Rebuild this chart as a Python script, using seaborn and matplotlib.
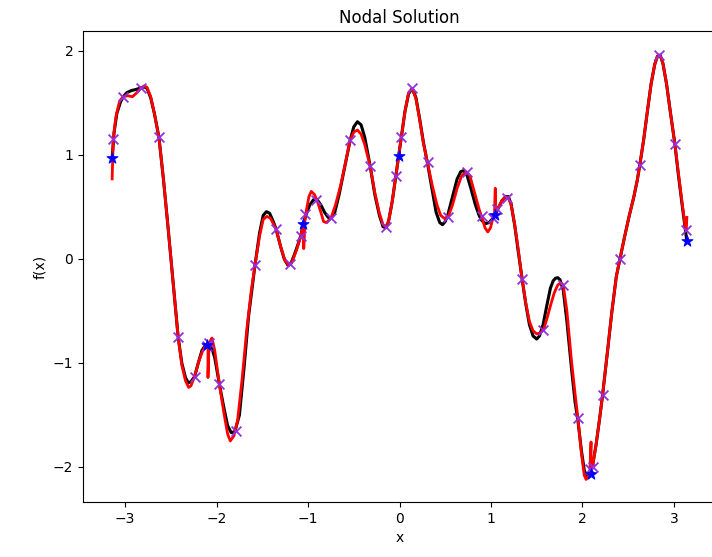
import matplotlib
matplotlib.use("Agg")
import matplotlib.pyplot as plt
import seaborn as sns

# true function (black)
black_x = [-3.1416, -3.12, -3.09, -3.05, -3.02, -2.98, -2.93, -2.88, -2.83, -2.79, -2.76, -2.72,
           -2.68, -2.63, -2.58, -2.53, -2.48, -2.42, -2.38, -2.34, -2.31, -2.28, -2.24, -2.20,
           -2.16, -2.13, -2.10, -2.06, -2.02, -1.97, -1.92, -1.88, -1.84, -1.80, -1.75, -1.70,
           -1.65, -1.58, -1.53, -1.49, -1.455, -1.42, -1.38, -1.35, -1.30, -1.26, -1.22, -1.19,
           -1.15, -1.11, -1.08, -1.05, -1.02, -0.98, -0.94, -0.90, -0.86, -0.82, -0.78, -0.75,
           -0.71, -0.66, -0.60, -0.54, -0.50, -0.46, -0.42, -0.38, -0.32, -0.27, -0.22, -0.18,
           -0.15, -0.12, -0.08, -0.04, -0.01, 0.02, 0.06, 0.10, 0.14, 0.18, 0.22, 0.26,
           0.31, 0.36, 0.40, 0.44, 0.47, 0.50, 0.53, 0.58, 0.63, 0.67, 0.70, 0.74,
           0.78, 0.83, 0.87, 0.90, 0.94, 0.98, 1.02, 1.05, 1.08, 1.12, 1.16, 1.19,
           1.22, 1.26, 1.30, 1.34, 1.38, 1.42, 1.46, 1.50, 1.53, 1.57, 1.61, 1.65,
           1.68, 1.705, 1.73, 1.755, 1.79, 1.83, 1.88, 1.92, 1.95, 1.99, 2.02, 2.05, 2.08,
           2.11, 2.15, 2.19, 2.22, 2.27, 2.32, 2.37, 2.41, 2.46, 2.51, 2.56, 2.60,
           2.63, 2.67, 2.71, 2.75, 2.79, 2.82, 2.85, 2.88, 2.92, 2.96, 3.01, 3.05,
           3.09, 3.13, 3.1416]
black_y = [0.97, 1.22, 1.40, 1.51, 1.56, 1.60, 1.62, 1.63, 1.645, 1.655, 1.64, 1.55,
           1.40, 1.17, 0.76, 0.30, -0.18, -0.75, -1.00, -1.14, -1.19, -1.18, -1.13, -1.00,
           -0.88, -0.84, -0.83, -0.83, -0.95, -1.20, -1.43, -1.60, -1.67, -1.66, -1.50, -1.05,
           -0.55, -0.06, 0.25, 0.42, 0.455, 0.44, 0.36, 0.29, 0.12, 0.00, -0.06, -0.05,
           0.04, 0.14, 0.22, 0.34, 0.43, 0.52, 0.57, 0.57, 0.52, 0.45, 0.40, 0.39,
           0.44, 0.62, 0.88, 1.14, 1.27, 1.32, 1.29, 1.17, 0.89, 0.62, 0.42, 0.31,
           0.30, 0.36, 0.55, 0.80, 0.99, 1.17, 1.42, 1.59, 1.64, 1.55, 1.35, 1.13,
           0.90, 0.65, 0.45, 0.35, 0.33, 0.36, 0.43, 0.60, 0.77, 0.84, 0.85, 0.80,
           0.68, 0.52, 0.42, 0.37, 0.34, 0.35, 0.39, 0.43, 0.49, 0.56, 0.60, 0.60,
           0.53, 0.32, 0.06, -0.19, -0.43, -0.63, -0.74, -0.77, -0.74, -0.63, -0.45, -0.28,
           -0.21, -0.185, -0.18, -0.20, -0.30, -0.60, -1.05, -1.38, -1.55, -1.85, -2.03, -2.10, -2.08,
           -1.99, -1.78, -1.52, -1.31, -0.92, -0.52, -0.17, 0.00, 0.21, 0.41, 0.59, 0.76,
           0.92, 1.15, 1.42, 1.68, 1.87, 1.95, 1.96, 1.88, 1.68, 1.42, 1.11, 0.80,
           0.52, 0.25, 0.17]

# element-wise approximation (red), spikes at element ends included
red_x = [-3.1416, -3.13, -3.10, -3.06, -3.02, -2.97, -2.92, -2.87, -2.83, -2.79, -2.76, -2.72,
         -2.68, -2.63, -2.58, -2.53, -2.48, -2.42, -2.38, -2.34, -2.305, -2.28, -2.24, -2.20,
         -2.16, -2.13, -2.10, -2.094, -2.094, -2.085, -2.07, -2.05, -2.02, -1.97, -1.92, -1.88,
         -1.85, -1.81, -1.77, -1.72, -1.67, -1.62, -1.58, -1.53, -1.49, -1.45, -1.41, -1.35,
         -1.30, -1.25, -1.21, -1.17, -1.12, -1.08, -1.06, -1.047, -1.047, -1.035, -1.02, -0.99,
         -0.965, -0.93, -0.90, -0.86, -0.83, -0.80, -0.75, -0.70, -0.64, -0.59, -0.54, -0.50,
         -0.46, -0.42, -0.38, -0.32, -0.27, -0.22, -0.18, -0.15, -0.12, -0.08, -0.04, -0.01,
         0.02, 0.06, 0.10, 0.14, 0.18, 0.22, 0.26, 0.31, 0.36, 0.41, 0.45, 0.49,
         0.53, 0.58, 0.63, 0.68, 0.73, 0.77, 0.82, 0.87, 0.90, 0.935, 0.965, 0.995,
         1.02, 1.04, 1.047, 1.047, 1.06, 1.08, 1.12, 1.16, 1.19, 1.22, 1.26, 1.30,
         1.34, 1.38, 1.42, 1.46, 1.50, 1.54, 1.575, 1.61, 1.65, 1.69, 1.73, 1.765,
         1.79, 1.83, 1.88, 1.92, 1.95, 1.99, 2.02, 2.04, 2.06, 2.08, 2.094, 2.094,
         2.11, 2.15, 2.19, 2.22, 2.27, 2.32, 2.37, 2.41, 2.46, 2.51, 2.56, 2.60,
         2.63, 2.67, 2.71, 2.75, 2.79, 2.82, 2.85, 2.88, 2.92, 2.96, 3.01, 3.05,
         3.09, 3.12, 3.135, 3.1416]
red_y = [0.77, 1.15, 1.37, 1.52, 1.56, 1.57, 1.56, 1.60, 1.64, 1.665, 1.65, 1.56,
         1.40, 1.17, 0.76, 0.30, -0.18, -0.75, -1.02, -1.17, -1.235, -1.22, -1.13, -1.00,
         -0.90, -0.85, -0.83, -0.83, -1.14, -0.90, -0.79, -0.76, -0.88, -1.20, -1.48, -1.68,
         -1.75, -1.70, -1.55, -1.15, -0.68, -0.30, -0.06, 0.22, 0.38, 0.41, 0.39, 0.29,
         0.12, -0.02, -0.06, -0.02, 0.10, 0.22, 0.30, 0.33, 0.10, 0.36, 0.46, 0.60,
         0.65, 0.62, 0.56, 0.45, 0.36, 0.35, 0.39, 0.52, 0.72, 0.93, 1.14, 1.22,
         1.24, 1.20, 1.10, 0.89, 0.64, 0.44, 0.33, 0.31, 0.36, 0.55, 0.80, 0.99,
         1.17, 1.42, 1.60, 1.64, 1.54, 1.34, 1.12, 0.91, 0.70, 0.52, 0.42, 0.39,
         0.40, 0.52, 0.68, 0.80, 0.84, 0.80, 0.64, 0.48, 0.40, 0.30, 0.26, 0.30,
         0.39, 0.42, 0.68, 0.43, 0.46, 0.49, 0.56, 0.60, 0.59, 0.52, 0.33, 0.08,
         -0.19, -0.42, -0.60, -0.69, -0.72, -0.71, -0.68, -0.58, -0.45, -0.33, -0.25, -0.23,
         -0.25, -0.50, -0.98, -1.30, -1.53, -1.88, -2.08, -2.12, -2.10, -2.06, -1.76, -2.05,
         -2.00, -1.78, -1.52, -1.31, -0.92, -0.52, -0.17, 0.00, 0.21, 0.41, 0.59, 0.76,
         0.92, 1.15, 1.42, 1.68, 1.87, 1.95, 1.96, 1.88, 1.68, 1.42, 1.11, 0.82,
         0.54, 0.33, 0.27, 0.40]

# interior nodes (purple x)
node_x = [-3.13, -3.02, -2.83, -2.63, -2.42, -2.24, -2.11,
          -2.08, -1.97, -1.79, -1.58, -1.35, -1.20, -1.08,
          -1.03, -0.91, -0.75, -0.54, -0.32, -0.15, -0.04,
          0.02, 0.14, 0.31, 0.53, 0.74, 0.90, 1.02,
          1.07, 1.18, 1.34, 1.57, 1.79, 1.95, 2.08,
          2.11, 2.22, 2.41, 2.63, 2.84, 3.01, 3.13]
node_y = [1.15, 1.56, 1.64, 1.17, -0.75, -1.13, -0.84,
          -0.81, -1.20, -1.65, -0.06, 0.29, -0.05, 0.22,
          0.43, 0.57, 0.39, 1.14, 0.89, 0.31, 0.80,
          1.17, 1.64, 0.93, 0.40, 0.84, 0.41, 0.39,
          0.48, 0.59, -0.19, -0.68, -0.25, -1.53, -2.02,
          -2.00, -1.31, 0.00, 0.90, 1.96, 1.11, 0.28]

# element boundaries (blue stars)
edge_x = [-3.14, -2.10, -1.05, -0.01, 1.04, 2.09, 3.14]
edge_y = [0.97, -0.83, 0.34, 0.99, 0.42, -2.07, 0.17]

fig = plt.figure(figsize=(7.12, 5.57), dpi=100)
fig.subplots_adjust(left=0.1166, right=1.0056, bottom=0.0987, top=0.9443)
ax = fig.add_subplot(111)

sns.lineplot(x=black_x, y=black_y, sort=False, estimator=None, color="black", lw=2.2, ax=ax)
sns.lineplot(x=red_x, y=red_y, sort=False, estimator=None, color="red", lw=2, ax=ax)
sns.scatterplot(x=node_x, y=node_y, marker="x", color="#9030e0", s=50, linewidth=1.3, ax=ax, zorder=3)
sns.scatterplot(x=edge_x, y=edge_y, marker="*", color="blue", edgecolor="blue", s=70, ax=ax, zorder=4)

ax.set_xlim(-3.46, 3.46)
ax.set_ylim(-2.337, 2.192)
ax.set_xticks([-3, -2, -1, 0, 1, 2, 3])
ax.set_yticks([-2, -1, 0, 1, 2])
ax.set_title("Nodal Solution")
ax.set_xlabel("x")
ax.set_ylabel("f(x)")

fig.savefig("out.png", dpi=100)
